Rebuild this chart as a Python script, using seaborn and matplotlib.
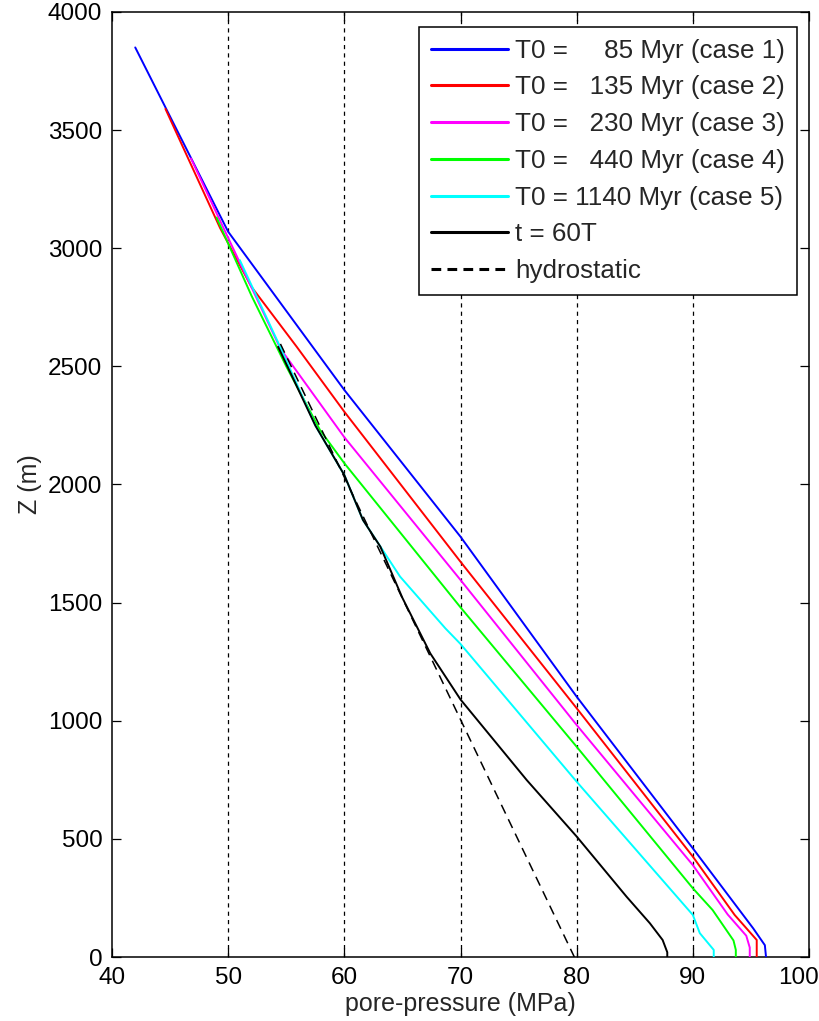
import matplotlib
matplotlib.use("Agg")
import matplotlib.pyplot as plt
import matplotlib.transforms as mtrans
import seaborn as sns
import pandas as pd

# pore-pressure (MPa) / depth Z (m)
p_case1 = [42.0, 50.0, 60.0, 70.0, 80.0, 90.0, 95.2, 96.2, 96.3]
z_case1 = [3850, 3070, 2400, 1779, 1102, 460, 121, 50, 0]

p_case2 = [44.6, 49.3, 52.0, 55.9, 60.0, 70.0, 80.0, 90.0, 93.6, 95.5, 95.5]
z_case2 = [3590, 3086, 2837, 2583, 2308, 1673, 1053, 425, 178, 72, 0]

p_case3 = [46.8, 49.7, 54.5, 60.0, 70.0, 80.0, 90.0, 93.0, 94.6, 94.9, 94.9]
z_case3 = [3380, 3075, 2575, 2200, 1596, 982, 389, 180, 90, 40, 0]

p_case4 = [49.0, 52.0, 55.0, 57.9, 60.0, 70.0, 80.0, 90.0, 91.7, 93.5, 93.7, 93.7]
z_case4 = [3130, 2800, 2500, 2231, 2090, 1480, 890, 291, 199, 70, 30, 0]

p_case5 = [51.0, 54.5, 57.5, 60.0, 61.6, 64.8, 68.7, 70.0, 80.0, 90.0, 90.6, 91.8, 91.8]
z_case5 = [2950, 2580, 2250, 2040, 1850, 1610, 1391, 1325, 742, 178, 101, 30, 0]

p_60T = [54.3, 57.5, 60.0, 61.6, 63.1, 65.0, 67.4, 70.0, 75.7, 80.0, 84.3, 86.3, 87.4, 87.8, 87.8]
z_60T = [2583, 2250, 2040, 1850, 1737, 1520, 1285, 1090, 749, 510, 255, 143, 72, 20, 0]

p_hydro = [54.5, 79.8]
z_hydro = [2595, 0]

labels = ["T0 =     85 Myr (case 1)", "T0 =   135 Myr (case 2)",
          "T0 =   230 Myr (case 3)", "T0 =   440 Myr (case 4)",
          "T0 = 1140 Myr (case 5)", "t = 60T", "hydrostatic"]
colors = ["#0000ff", "#ff0000", "#ff00ff", "#00ff00", "#00ffff", "black", "black"]

curves = [(p_case1, z_case1), (p_case2, z_case2), (p_case3, z_case3),
          (p_case4, z_case4), (p_case5, z_case5), (p_60T, z_60T), (p_hydro, z_hydro)]

sns.set_theme(style="ticks")
plt.rcParams["font.family"] = ["Liberation Sans", "DejaVu Sans"]
plt.rcParams["lines.scale_dashes"] = False
plt.rcParams["xtick.direction"] = "in"
plt.rcParams["ytick.direction"] = "in"

fig = plt.figure(figsize=(8.19, 10.21), dpi=100)
ax = fig.add_axes([112 / 819, 64 / 1021, 697 / 819, 945 / 1021])

for i, (p, z) in enumerate(curves):
    df = pd.DataFrame({"p": p, "z": z})
    ls = (0, (7, 4.5)) if labels[i] == "hydrostatic" else "-"
    lw = 1.1 if labels[i] == "hydrostatic" else 1.4
    sns.lineplot(data=df, x="p", y="z", sort=False, estimator=None, color=colors[i],
                 linewidth=lw, linestyle=ls, label=labels[i], ax=ax, zorder=3 + i)

ax.set_xlim(40, 100)
ax.set_ylim(0, 4000)
ax.set_xticks(range(40, 101, 10))
ax.set_yticks(range(0, 4001, 500))
for xv in range(50, 100, 10):
    ax.axvline(xv, color="black", linestyle=(0, (3, 3)), linewidth=0.9, zorder=1)

ax.tick_params(axis="both", which="both", top=True, right=True, length=6.5, width=0.9,
               labelsize=17.5, colors="black", pad=7)
for s in ax.spines.values():
    s.set_linewidth(1.1)
    s.set_color("black")

# last x label pulled in so it stays inside the figure (as in the original)
last = ax.xaxis.get_major_ticks()[-1].label1
last.set_transform(last.get_transform() + mtrans.ScaledTranslation(-0.11, 0, fig.dpi_scale_trans))

ax.set_xlabel("pore-pressure (MPa)", fontsize=18, labelpad=2)
ax.set_ylabel("Z (m)", fontsize=18, labelpad=4)

leg = ax.legend(loc="upper right", bbox_to_anchor=(0.9828, 0.9841), borderaxespad=0,
                fontsize=18.7, frameon=True, fancybox=False, framealpha=1,
                edgecolor="black", handlelength=3.0, handletextpad=0.27,
                labelspacing=0.49, borderpad=0.45)
leg.get_frame().set_linewidth(1.1)
for line in leg.get_lines():
    line.set_linewidth(2.2)

fig.savefig("out.png", dpi=100)
